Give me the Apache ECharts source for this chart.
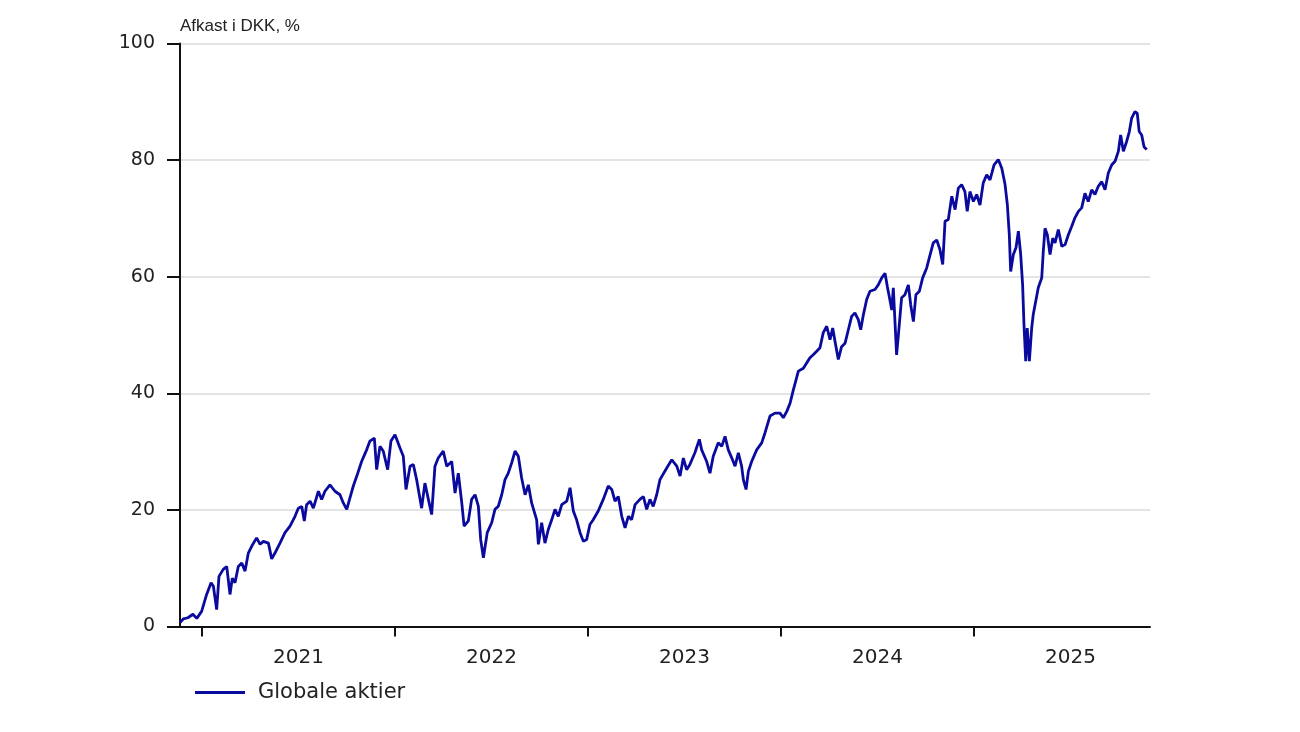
<!DOCTYPE html>
<html>
<head>
<meta charset="utf-8">
<script src="https://cdn.jsdelivr.net/npm/echarts@6/dist/echarts.min.js"></script>
<style>html,body{margin:0;padding:0;background:#fff}#c{width:1300px;height:732px}</style>
</head>
<body>
<div id="c"></div>
<script>
// Time in decimal years, value = return in DKK, %
const years = [
2020.886,2020.903,2020.927,2020.953,2020.973,2020.998,2021.024,2021.047,2021.059,2021.076,
2021.088,2021.110,2021.128,2021.145,2021.157,2021.171,2021.188,2021.206,2021.223,2021.240,
2021.258,2021.283,2021.301,2021.318,2021.344,2021.361,2021.378,2021.404,2021.430,2021.456,
2021.482,2021.499,2021.517,2021.530,2021.542,2021.560,2021.577,2021.603,2021.620,2021.637,
2021.663,2021.689,2021.715,2021.732,2021.750,2021.767,2021.784,2021.802,2021.827,2021.853,
2021.870,2021.893,2021.905,2021.922,2021.939,2021.962,2021.979,2022.000,2022.026,2022.043,
2022.057,2022.078,2022.095,2022.112,2022.138,2022.155,2022.173,2022.190,2022.207,2022.224,
2022.250,2022.268,2022.294,2022.311,2022.328,2022.346,2022.358,2022.380,2022.397,2022.415,
2022.432,2022.444,2022.458,2022.478,2022.501,2022.518,2022.535,2022.553,2022.570,2022.587,
2022.605,2022.622,2022.639,2022.656,2022.674,2022.691,2022.708,2022.734,2022.743,2022.760,
2022.777,2022.794,2022.812,2022.829,2022.846,2022.864,2022.890,2022.907,2022.924,2022.941,
2022.959,2022.976,2022.993,2023.010,2023.027,2023.053,2023.079,2023.105,2023.123,2023.140,
2023.157,2023.175,2023.192,2023.209,2023.226,2023.244,2023.269,2023.287,2023.304,2023.321,
2023.338,2023.356,2023.373,2023.408,2023.434,2023.460,2023.477,2023.494,2023.511,2023.528,
2023.554,2023.577,2023.589,2023.615,2023.632,2023.649,2023.675,2023.693,2023.710,2023.727,
2023.745,2023.762,2023.779,2023.796,2023.805,2023.819,2023.831,2023.848,2023.874,2023.900,
2023.917,2023.943,2023.969,2023.995,2024.012,2024.030,2024.047,2024.064,2024.078,2024.090,
2024.116,2024.133,2024.150,2024.167,2024.185,2024.202,2024.219,2024.237,2024.254,2024.268,
2024.280,2024.297,2024.314,2024.332,2024.349,2024.366,2024.383,2024.401,2024.413,2024.427,
2024.444,2024.461,2024.487,2024.504,2024.522,2024.539,2024.551,2024.561,2024.574,2024.582,
2024.599,2024.613,2024.625,2024.642,2024.660,2024.672,2024.686,2024.699,2024.717,2024.734,
2024.755,2024.768,2024.789,2024.807,2024.824,2024.838,2024.850,2024.867,2024.885,2024.902,
2024.919,2024.936,2024.953,2024.965,2024.979,2024.997,2025.014,2025.031,2025.048,2025.066,
2025.083,2025.104,2025.126,2025.144,2025.161,2025.173,2025.183,2025.190,2025.204,2025.218,
2025.230,2025.242,2025.252,2025.259,2025.268,2025.276,2025.287,2025.299,2025.307,2025.320,
2025.333,2025.351,2025.359,2025.368,2025.380,2025.394,2025.408,2025.420,2025.437,2025.455,
2025.472,2025.489,2025.506,2025.523,2025.541,2025.558,2025.575,2025.592,2025.610,2025.627,
2025.644,2025.662,2025.679,2025.696,2025.714,2025.731,2025.748,2025.760,2025.774,2025.791,
2025.805,2025.817,2025.834,2025.846,2025.856,2025.869,2025.881,2025.895
];
const globaleAktier = [
0.7,1.3,1.5,2.1,1.4,2.6,5.5,7.5,6.9,2.9,
8.6,9.8,10.3,5.5,8.3,7.5,10.3,10.9,9.5,12.6,
13.8,15.2,14.1,14.6,14.3,11.6,12.6,14.3,16.1,17.2,
18.9,20.3,20.6,18.1,20.9,21.5,20.3,23.2,21.8,23.2,
24.3,23.2,22.6,21.2,20.1,22.1,24.1,25.8,28.3,30.3,
31.8,32.3,26.9,30.9,30.1,26.9,31.8,32.9,30.6,29.2,
23.5,27.5,27.8,25.2,20.3,24.6,21.8,19.2,27.5,28.9,
30.1,27.5,28.3,22.9,26.3,21.2,17.2,18.1,21.8,22.6,
20.6,14.9,11.8,16.1,17.8,20.1,20.6,22.6,25.2,26.3,
28.1,30.1,29.2,25.5,22.6,24.3,21.2,18.3,14.1,17.8,
14.3,16.6,18.3,20.1,18.9,20.9,21.5,23.8,19.8,18.3,
16.1,14.6,14.9,17.5,18.3,19.8,21.8,24.1,23.5,21.5,
22.3,18.9,16.9,18.9,18.3,20.9,21.8,22.3,20.1,21.8,
20.6,22.6,25.2,27.2,28.6,27.5,25.8,28.9,26.9,27.8,
29.8,32.1,30.3,28.3,26.3,29.2,31.5,30.9,32.6,30.3,
28.9,27.5,29.8,27.5,25.2,23.5,26.6,28.3,30.3,31.5,
33.2,36.1,36.6,36.6,35.8,36.9,38.3,40.6,42.3,43.8,
44.3,45.2,46.1,46.6,47.2,47.8,50.4,51.5,49.2,51.2,
48.9,45.8,48.0,48.6,50.9,53.2,53.8,52.6,50.9,53.5,
56.1,57.5,57.8,58.6,59.8,60.6,58.3,56.6,54.3,58.1,
46.6,51.8,56.4,56.9,58.6,55.2,52.3,56.9,57.5,59.8,
61.5,63.2,65.8,66.3,64.6,62.1,69.5,69.8,73.8,71.5,
75.2,75.8,74.6,71.2,74.6,72.9,74.1,72.3,76.1,77.5,
76.6,79.2,80.1,78.6,75.8,72.3,67.2,60.9,63.8,65.0,
67.8,63.8,58.6,51.8,45.5,51.2,45.5,51.2,53.5,55.8,
58.1,59.8,64.3,68.3,67.2,63.8,66.6,65.8,68.1,65.2,
65.5,67.2,68.6,70.1,71.2,71.8,74.3,72.9,74.9,74.1,
75.5,76.3,74.9,77.8,79.2,79.8,81.5,84.3,81.5,83.2,
84.9,87.2,88.3,88.0,84.9,84.3,82.3,81.8
];
const yearTicks = [2021, 2022, 2023, 2024, 2025];
const yearLabelPos = [2021.5, 2022.5, 2023.5, 2024.5, 2025.5];
const yTicks = [0, 20, 40, 60, 80, 100];

const seriesData = years.map((y, i) => [y, globaleAktier[i]]);
const FONT = '"Liberation Sans", Arial, sans-serif';
const FONT_WIDE = '"DejaVu Sans", "Liberation Sans", sans-serif';

const chart = echarts.init(document.getElementById('c'), null, {renderer: 'canvas'});
chart.setOption({
  animation: false,
  backgroundColor: '#ffffff',
  title: {
    text: 'Afkast i DKK, %',
    left: 175, top: 13,
    textStyle: {fontFamily: FONT, fontSize: 17, fontWeight: 'normal', color: '#222'}
  },
  legend: {
    left: 190, top: 677,
    icon: 'rect',
    itemWidth: 50, itemHeight: 3,
    textStyle: {fontFamily: FONT_WIDE, fontSize: 21, color: '#222', padding: [0, 0, 0, 8]},
    data: ['Globale aktier']
  },
  grid: {left: 180, right: 150, top: 43.5, bottom: 105.5, containLabel: false},
  xAxis: {
    type: 'value',
    min: 2020.886, max: 2025.912,
    axisLine: {show: true, lineStyle: {color: '#111', width: 2}},
    axisTick: {show: true, customValues: yearTicks, length: 10, inside: false, lineStyle: {color: '#111', width: 2}},
    axisLabel: {
      show: true, customValues: yearLabelPos, margin: 21,
      formatter: v => String(Math.floor(v)),
      fontFamily: FONT_WIDE, fontSize: 20, color: '#222'
    },
    splitLine: {show: false}
  },
  yAxis: {
    type: 'value',
    min: 0, max: 100, interval: 20,
    axisLine: {show: true, lineStyle: {color: '#111', width: 2}},
    axisTick: {show: true, length: 13, lineStyle: {color: '#111', width: 2}},
    axisLabel: {
      margin: 25, fontFamily: FONT_WIDE, fontSize: 19, color: '#222',
      formatter: v => yTicks.indexOf(v) >= 0 ? String(v) : ''
    },
    splitLine: {show: true, lineStyle: {color: '#e4e4e4', width: 2}}
  },
  series: [{
    name: 'Globale aktier',
    type: 'line',
    data: seriesData,
    showSymbol: false,
    symbol: 'none',
    lineStyle: {color: '#0a0a9e', width: 2.8},
    itemStyle: {color: '#0a0a9e'},
    z: 3
  }]
});
</script>
</body>
</html>
